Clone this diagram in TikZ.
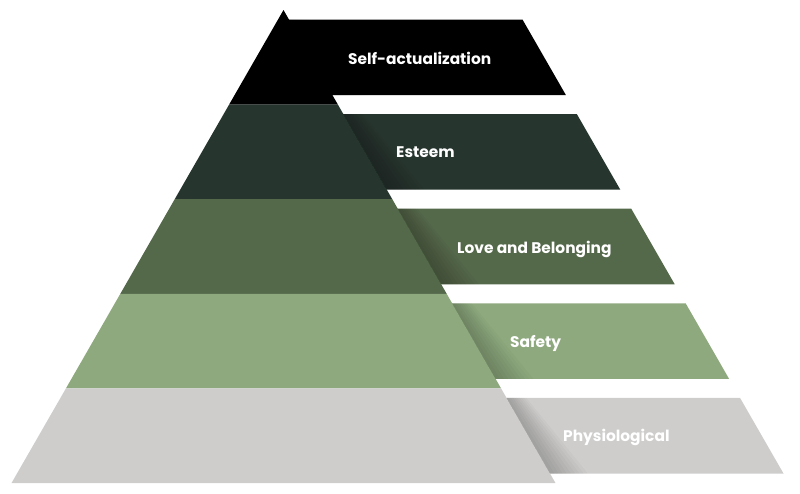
\documentclass[tikz,border=0pt]{standalone}
\usepackage{fontspec}
\setmainfont{Poppins}
\definecolor{cSelf}{HTML}{000000}
\definecolor{cEst}{HTML}{26352E}
\definecolor{cLove}{HTML}{54684A}
\definecolor{cSafe}{HTML}{8FA97E}
\definecolor{cPhys}{HTML}{CECDCC}
\begin{document}
\begin{tikzpicture}[x=1pt,y=-1pt,
  tablabel/.style={text=white,font=\bfseries\fontsize{15.4}{17}\selectfont,anchor=base west,inner sep=0pt}]
\useasboundingbox (0,0) rectangle (800,493);
\def\ax{283.5}\def\ay{10}\def\s{0.575}\def\W{233.5}\def\h{94.6}\def\ins{9.5}
\foreach \i/\col in {0/cSelf,1/cEst,2/cLove,3/cSafe,4/cPhys}{
  \pgfmathsetmacro\ya{\ay+\i*\h}
  \pgfmathsetmacro\yb{\ay+(\i+1)*\h}
  \pgfmathsetmacro\xla{\ax-\s*(\ya-\ay)}
  \pgfmathsetmacro\xra{\ax+\s*(\ya-\ay)}
  \pgfmathsetmacro\xlb{\ax-\s*(\yb-\ay)}
  \pgfmathsetmacro\xrb{\ax+\s*(\yb-\ay)}
  \fill[\col] (\xla,\ya) -- (\xra,\ya) -- (\xrb,\yb) -- (\xlb,\yb) -- cycle;
  \pgfmathsetmacro\yt{\ya+\ins}
  \pgfmathsetmacro\ybb{\yb-\ins}
  \pgfmathsetmacro\xt{\ax+\s*(\yt-\ay)}
  \pgfmathsetmacro\xbb{\ax+\s*(\ybb-\ay)}
  \fill[\col] (\xt-1.5,\yt) -- (\xt+\W,\yt) -- (\xbb+\W,\ybb) -- (\xbb-1.5,\ybb) -- cycle;
  \foreach \k in {1,...,9}{
    \fill[black,opacity=0.022] (\xt,\yt) -- ++(\k*2.2,0) -- (\xbb+\k*4.2,\ybb) -- (\xbb,\ybb) -- cycle;
  }
}
\node[tablabel] (self) at (348,64) {Self-actualization};
\node[tablabel] (esteem) at (396,157) {Esteem};
\node[tablabel] (love) at (457,253) {Love and Belonging};
\node[tablabel] (safety) at (510,347) {Safety};
\node[tablabel] (phys) at (563,441) {Physiological};
\end{tikzpicture}
\end{document}
